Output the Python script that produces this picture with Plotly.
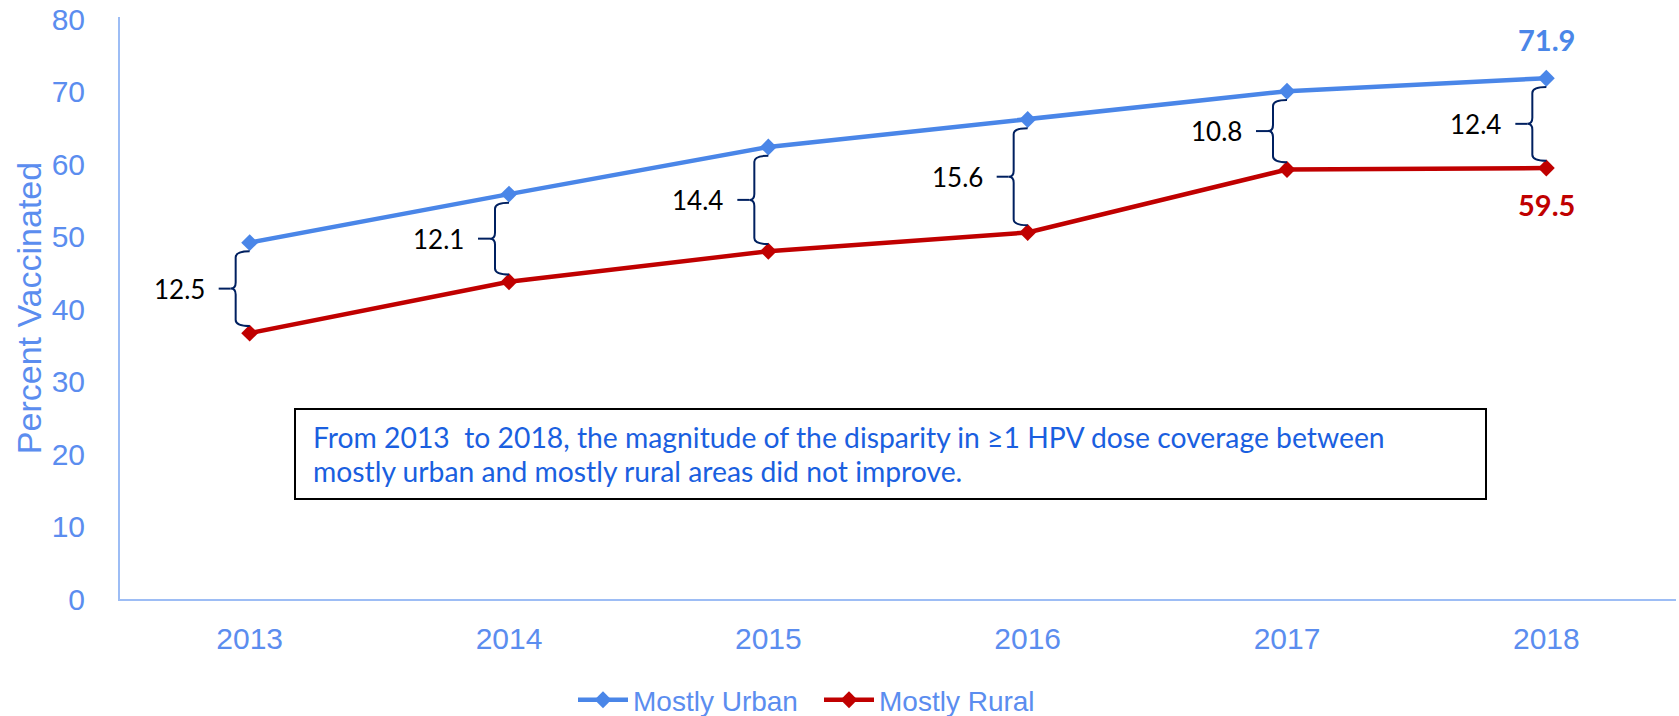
import plotly.graph_objects as go

years = [2013, 2014, 2015, 2016, 2017, 2018]
urban = [49.2, 55.9, 62.4, 66.2, 70.1, 71.9]
rural = [36.7, 43.8, 48.0, 50.6, 59.3, 59.5]
gaps = [12.5, 12.1, 14.4, 15.6, 10.8, 12.4]
y_ticks = [0, 10, 20, 30, 40, 50, 60, 70, 80]
note_lines = ["From 2013\u00a0 to 2018, the magnitude of the disparity in \u22651 HPV dose coverage between",
              "mostly urban and mostly rural areas did not improve."]

# page body margin is removed by a post script, so the figure fills the window exactly
OFF = 0
W, H = 1679 - OFF, 716 - OFF
ML, MR, MT, MB = 120 - OFF, 3, 17 - OFF, 117
XR = [2012.5, 2018.5]
YR = [0, 80.35]
pw = W - ML - MR
ph = H - MT - MB
px_x = (XR[1] - XR[0]) / pw   # data units per px (x)
px_y = (YR[1] - YR[0]) / ph   # data units per px (y)

BLUE = "#4A86E8"
RED = "#C00000"
TICK = "#5B8DEF"
AXIS = "#9DBDF5"
NAVY = "#002060"


def py(v):
    """window pixel row -> paper fraction"""
    return (H - MB - (v - OFF)) / ph


def pxp(v):
    """window pixel column -> paper fraction"""
    return (v - OFF - ML) / pw


fig = go.Figure()
fig.add_trace(go.Scatter(x=years, y=urban, name="Mostly Urban", mode="lines+markers",
                         line=dict(color=BLUE, width=4.5),
                         marker=dict(symbol="diamond", size=13, color=BLUE)))
fig.add_trace(go.Scatter(x=years, y=rural, name="Mostly Rural", mode="lines+markers",
                         line=dict(color=RED, width=4.5),
                         marker=dict(symbol="diamond", size=13, color=RED)))

shapes = []
annotations = []
for yr, u, r, g in zip(years, urban, rural, gaps):
    X = yr - 14 * px_x
    T = u - 1.2
    B = r + 1.0
    M = (T + B) / 2
    hw = 14 * px_x
    cw = 5 * px_x
    rr = 6 * px_y
    path = (f"M{X+hw},{T} Q{X},{T} {X},{T-rr} L{X},{M+rr} Q{X},{M} {X-cw},{M} "
            f"Q{X},{M} {X},{M-rr} L{X},{B+rr} Q{X},{B} {X+hw},{B}")
    shapes.append(dict(type="path", path=path, xref="x", yref="y",
                       line=dict(color=NAVY, width=2)))
    shapes.append(dict(type="line", xref="x", yref="y",
                       x0=X - cw - 12 * px_x, x1=X - cw, y0=M, y1=M,
                       line=dict(color=NAVY, width=2)))
    annotations.append(dict(x=X - 29 * px_x, y=M, xref="x", yref="y", text=f"{g}",
                            showarrow=False, xanchor="right", yanchor="middle",
                            font=dict(family="Lato", size=26, color="black")))

annotations.append(dict(x=years[-1], y=urban[-1], xref="x", yref="y", text=f"<b>{urban[-1]}</b>",
                        showarrow=False, yshift=39, font=dict(family="Lato", size=29, color=BLUE)))
annotations.append(dict(x=years[-1], y=rural[-1], xref="x", yref="y", text=f"<b>{rural[-1]}</b>",
                        showarrow=False, yshift=-36, font=dict(family="Lato", size=29, color=RED)))

# note box
shapes.append(dict(type="rect", xref="paper", yref="paper",
                   x0=pxp(295), x1=pxp(1486), y0=py(499), y1=py(409),
                   line=dict(color="black", width=2), fillcolor="white", layer="below"))
for line_text, yc in zip(note_lines, [437, 471]):
    annotations.append(dict(x=pxp(311), y=py(yc), xref="paper", yref="paper",
                            text=line_text, showarrow=False, xanchor="left", yanchor="middle",
                            align="left",
                            font=dict(family="Lato", size=28.3, color="#1A5FE0")))

fig.update_layout(
    width=W, height=H,
    margin=dict(l=ML, r=MR, t=MT, b=MB, autoexpand=False),
    paper_bgcolor="white", plot_bgcolor="white",
    shapes=shapes, annotations=annotations,
    showlegend=True,
    legend=dict(orientation="h", x=pxp(573), xanchor="left", y=py(700), yanchor="middle",
                font=dict(family="Liberation Sans", size=28, color=TICK),
                entrywidth=181, entrywidthmode="pixels", itemwidth=50,
                bgcolor="rgba(0,0,0,0)"),
    xaxis=dict(range=XR, tickmode="array", tickvals=years, ticktext=[str(y) for y in years],
               showgrid=False, zeroline=False, showline=True, linecolor=AXIS, linewidth=2,
               ticks="", ticklabelstandoff=12, automargin=False, ticklabeloverflow="allow",
               tickfont=dict(family="Liberation Sans", size=30, color=TICK)),
    yaxis=dict(range=YR, tickmode="array", tickvals=y_ticks,
               showgrid=False, zeroline=False, showline=True, linecolor=AXIS, linewidth=2,
               ticks="", ticklabelstandoff=27, automargin=False, ticklabeloverflow="allow",
               tickfont=dict(family="Liberation Sans", size=30, color=TICK),
               title=dict(text="Percent Vaccinated", standoff=0,
                          font=dict(family="Liberation Sans", size=34, color=TICK))),
)

fig.write_html("out.html", config={"displayModeBar": False},
               post_script="document.body.style.margin='0px';document.body.style.overflow='hidden';")
